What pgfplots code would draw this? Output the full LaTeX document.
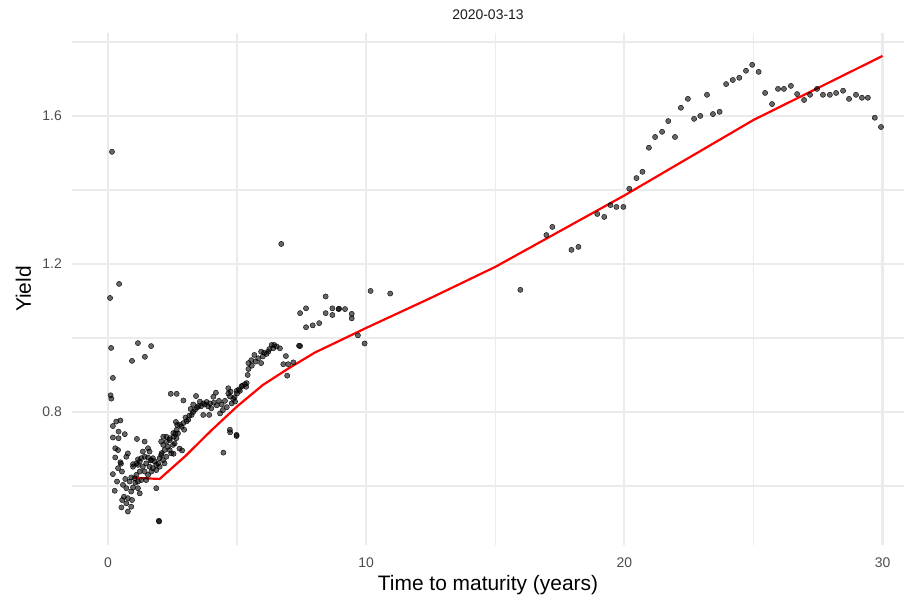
\documentclass[border=0pt]{standalone}
\usepackage{pgfplots}
\pgfplotsset{compat=1.18}
\usepackage{pgfplotstable}
\usepackage{fontspec}
\setmainfont{Liberation Sans}
\definecolor{gridc}{HTML}{EBEBEB}
\definecolor{tickc}{HTML}{4D4D4D}
\definecolor{stripc}{HTML}{1A1A1A}
\pgfplotstableread{
x y
0.13 0.836
0.10 0.845
0.155 1.503
0.43 1.146
0.08 1.108
0.12 0.973
1.16 0.986
1.67 0.978
0.93 0.938
1.43 0.949
0.19 0.892
0.48 0.777
0.32 0.774
0.19 0.762
0.41 0.747
0.65 0.740
0.19 0.731
0.41 0.729
1.12 0.727
1.42 0.720
0.28 0.702
0.39 0.697
0.77 0.688
0.71 0.679
0.28 0.677
0.48 0.664
0.50 0.660
1.16 0.672
0.97 0.659
0.39 0.648
0.54 0.639
0.19 0.632
0.67 0.619
0.35 0.612
0.90 0.623
0.84 0.612
1.06 0.609
0.58 0.603
0.71 0.594
0.26 0.587
0.97 0.596
0.90 0.585
1.16 0.594
1.23 0.580
0.62 0.571
0.77 0.567
0.55 0.562
0.93 0.562
0.71 0.553
0.52 0.542
0.90 0.544
0.77 0.531
1.87 0.594
1.97 0.506
1.98 0.504
0.97 0.652
1.10 0.661
1.23 0.666
1.29 0.675
1.42 0.679
1.55 0.677
1.68 0.670
1.81 0.666
1.94 0.661
2.13 0.670
2.26 0.679
2.39 0.697
2.52 0.711
2.65 0.729
2.71 0.742
1.55 0.702
1.61 0.693
1.35 0.693
1.48 0.661
1.61 0.652
1.74 0.648
1.87 0.643
1.35 0.652
1.23 0.639
1.10 0.630
1.42 0.639
1.55 0.630
1.68 0.639
1.29 0.616
1.48 0.616
1.16 0.612
1.03 0.621
1.87 0.657
2.00 0.675
2.06 0.684
2.19 0.697
2.32 0.706
2.19 0.661
2.45 0.688
2.58 0.715
2.61 0.742
2.68 0.765
2.55 0.733
2.06 0.720
2.26 0.733
2.39 0.724
2.00 0.652
1.74 0.675
1.16 0.657
2.14 0.733
2.14 0.711
2.08 0.689
1.65 0.669
2.43 0.849
2.66 0.849
2.92 0.831
3.41 0.843
4.08 0.841
4.18 0.852
4.66 0.864
4.75 0.855
5.11 0.857
5.18 0.870
5.35 0.868
3.56 0.828
3.69 0.823
3.50 0.816
3.37 0.806
3.24 0.792
3.11 0.779
2.92 0.770
2.79 0.765
2.66 0.752
2.53 0.743
2.40 0.729
2.27 0.720
3.95 0.823
4.21 0.818
4.40 0.820
4.53 0.830
4.60 0.813
4.79 0.823
3.69 0.792
3.92 0.792
4.34 0.796
4.45 0.805
4.73 0.745
4.98 0.735
4.47 0.690
2.63 0.773
2.77 0.701
2.87 0.696
2.54 0.687
3.00 0.785
3.05 0.775
3.15 0.790
3.30 0.800
3.45 0.812
3.60 0.815
3.75 0.820
3.82 0.827
3.88 0.815
4.00 0.810
4.10 0.825
4.30 0.830
4.90 0.840
5.00 0.850
2.85 0.760
2.95 0.752
3.20 0.808
3.30 0.820
6.34 0.981
6.44 0.981
6.53 0.977
6.66 0.972
6.40 0.972
6.21 0.963
6.14 0.957
6.05 0.960
5.93 0.963
5.67 0.954
5.82 0.945
5.72 0.936
5.93 0.932
5.44 0.932
5.57 0.925
5.44 0.916
5.41 0.900
5.37 0.878
5.20 0.870
5.07 0.861
4.98 0.857
4.66 0.850
4.72 0.842
4.85 0.835
4.92 0.828
6.89 0.951
6.79 0.929
6.98 0.929
7.18 0.934
6.94 0.898
7.40 0.979
4.72 0.752
4.98 0.738
6.00 0.950
6.25 0.970
5.30 0.875
5.55 0.940
6.71 1.254
7.44 1.067
7.67 1.080
7.67 1.029
7.93 1.034
8.18 1.040
8.43 1.112
8.43 1.067
8.69 1.080
8.69 1.062
8.93 1.078
8.95 1.079
9.18 1.078
9.44 1.065
9.44 1.053
9.68 1.007
9.94 0.985
10.17 1.127
10.93 1.120
7.44 0.978
15.97 1.130
16.98 1.278
17.21 1.300
17.95 1.238
18.22 1.246
18.95 1.335
19.22 1.327
19.46 1.359
19.69 1.354
19.96 1.354
20.19 1.403
20.47 1.432
20.70 1.449
20.95 1.514
21.19 1.543
21.46 1.557
21.70 1.586
21.96 1.543
22.19 1.622
22.46 1.646
22.70 1.592
22.94 1.600
23.20 1.657
23.43 1.605
23.69 1.611
23.94 1.686
24.20 1.697
24.45 1.703
24.71 1.722
24.95 1.738
25.20 1.719
25.45 1.662
25.72 1.632
25.95 1.673
26.18 1.673
26.45 1.681
26.69 1.659
26.96 1.643
27.19 1.657
27.46 1.673
27.69 1.657
27.96 1.657
28.20 1.662
28.47 1.668
28.70 1.646
28.97 1.657
29.20 1.649
29.43 1.649
29.70 1.595
29.94 1.570
}\pts
\pgfplotstableread{
x y
1 0.622
2 0.619
3 0.681
4 0.750
5 0.815
6 0.873
7 0.918
8 0.960
10 1.027
12.5 1.108
15 1.192
20 1.385
25 1.589
30 1.762
}\fit
\begin{document}
\begin{tikzpicture}
\useasboundingbox (0,0) rectangle (911bp,601bp);
\begin{axis}[
  at={(72bp,56bp)}, anchor=south west,
  scale only axis, width=832bp, height=512bp,
  xmin=-1.394, xmax=30.83, ymin=0.4405, ymax=1.824,
  axis line style={draw=none}, tick style={draw=none},
  major tick length=0pt, minor tick length=0pt,
  xtick={0,10,20,30}, xticklabels={0,10,20,30},
  minor xtick={5,15,25},
  ytick={0.8,1.2,1.6}, yticklabels={0.8,1.2,1.6},
  minor ytick={0.6,1.0,1.4,1.8},
  grid=both,
  major grid style={draw=gridc, line width=2.2bp},
  minor grid style={draw=gridc, line width=1.4bp},
  xticklabel style={font=\fontsize{14}{16}\selectfont, text=tickc, anchor=base, inner sep=0pt, yshift=-22bp},
  yticklabel style={font=\fontsize{14}{16}\selectfont, text=tickc, anchor=east, inner sep=0pt, xshift=-10bp},
  xlabel={Time to maturity (years)},
  ylabel={Yield},
  xlabel style={font=\fontsize{21}{24}\selectfont, at={(axis description cs:0.5,-0.0898)}, anchor=base, inner sep=0pt},
  ylabel style={font=\fontsize{21}{24}\selectfont, at={(axis description cs:-0.0493,0.5)}, rotate=0, anchor=base, inner sep=0pt},
  title={2020-03-13},
  every axis title shift=0pt,
  title style={font=\fontsize{14}{16}\selectfont, text=stripc, at={(axis description cs:0.5,1.0254)}, anchor=base, inner sep=0pt},
]
\addplot[only marks, mark=*, mark size=2.6bp, mark options={draw=none, fill=black, fill opacity=0.6}] table[x=x,y=y]{\pts};
\addplot[red, line width=2.2bp, no marks] table[x=x,y=y]{\fit};
\end{axis}
\end{tikzpicture}
\end{document}
